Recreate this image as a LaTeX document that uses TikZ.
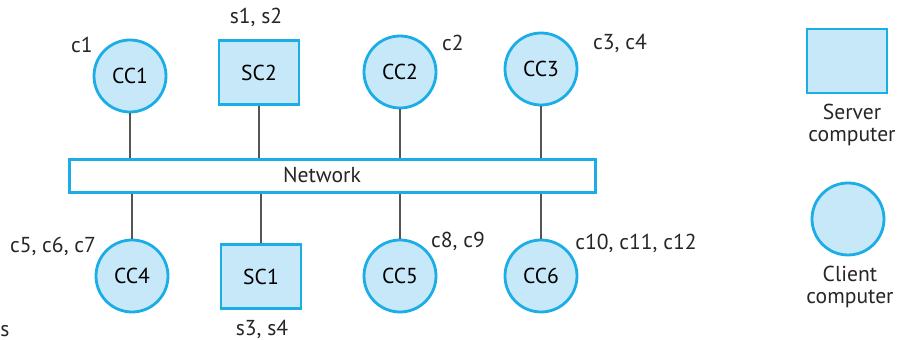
\documentclass[tikz,border=0pt]{standalone}
\usepackage{fontspec}
\setmainfont{PT Sans}
\usepackage{tikz}

\definecolor{edgeblue}{HTML}{1AADE6}
\definecolor{fillblue}{HTML}{C7E8F8}
\definecolor{wiregray}{HTML}{555555}

\begin{document}
\begin{tikzpicture}[x=0.5pt, y=-0.5pt, font=\fontsize{10.8}{10.6}\selectfont,
    client/.style={circle, draw=edgeblue, fill=fillblue, line width=1.4pt, minimum size=36pt, inner sep=0pt},
    server/.style={rectangle, draw=edgeblue, fill=fillblue, line width=1.4pt, minimum width=40pt, minimum height=32pt, inner sep=0pt},
    wire/.style={draw=wiregray, line width=0.9pt},
    tag/.style={inner sep=0pt, text=black!85},
    legendtext/.style={align=center, inner sep=0pt, text=black!85}]
    \useasboundingbox (0,0) rectangle (906,340);

    \node[rectangle, draw=edgeblue, fill=white, line width=1.4pt, minimum width=263pt, minimum height=16.5pt, inner sep=0pt] (net) at (332.5,176) {};
    \node[tag] (nettext) at (322,175) {Network};

    \node[client] (cc1) at (130,76) {CC1};
    \node[server] (sc2) at (259,72.5) {SC2};
    \node[client] (cc2) at (400,72) {CC2};
    \node[client] (cc3) at (541,69) {CC3};

    \node[client] (cc4) at (132,276) {CC4};
    \node[server] (sc1) at (261,276.5) {SC1};
    \node[client] (cc5) at (400,276) {CC5};
    \node[client] (cc6) at (541,276) {CC6};

    \draw[wire] (cc1.south) -- (cc1.south |- net.north);
    \draw[wire] (sc2.south) -- (sc2.south |- net.north);
    \draw[wire] (cc2.south) -- (cc2.south |- net.north);
    \draw[wire] (cc3.south) -- (cc3.south |- net.north);
    \draw[wire] (net.south -| cc4.north) -- (cc4.north);
    \draw[wire] (net.south -| sc1.north) -- (sc1.north);
    \draw[wire] (net.south -| cc5.north) -- (cc5.north);
    \draw[wire] (net.south -| cc6.north) -- (cc6.north);

    \node[tag] (c1) at (82,45) {c1};
    \node[tag] (s12) at (256,17) {s1, s2};
    \node[tag] (c2) at (453,43) {c2};
    \node[tag] (c34) at (620,43) {c3, c4};
    \node[tag] (c567) at (53,246) {c5, c6, c7};
    \node[tag] (s34) at (262,329) {s3, s4};
    \node[tag] (c89) at (458,241) {c8, c9};
    \node[tag] (c101112) at (636,243) {c10, c11, c12};
    \node[tag] (cut) at (5,331) {s};

    \node[server] (legserver) at (847,61) {};
    \node[legendtext] (legservertext) at (852,125) {Server\\computer};
    \node[client] (legclient) at (848,219) {};
    \node[legendtext] (legclienttext) at (850,287) {Client\\computer};
\end{tikzpicture}
\end{document}
